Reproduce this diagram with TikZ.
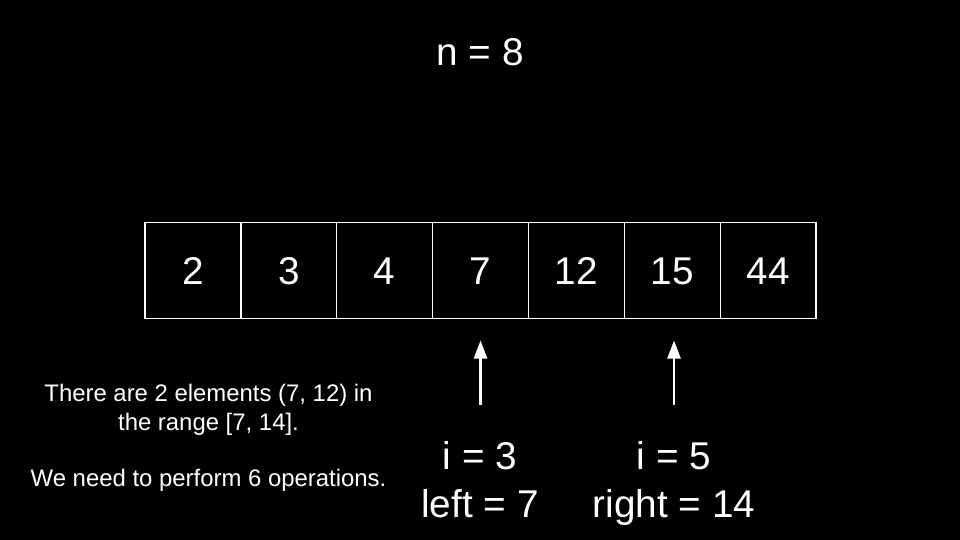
\documentclass[tikz,border=0pt]{standalone}
\usepackage{fontspec}
\setmainfont{Liberation Sans}
\usetikzlibrary{arrows.meta,positioning}

\begin{document}
\begin{tikzpicture}[
    x=1pt, y=-1pt,
    cell/.style={draw=white, line width=1.3pt, minimum width=95.86pt, minimum height=96pt, inner sep=0pt, outer sep=0pt, text=white, text height=27.7pt, text depth=0pt, font=\fontsize{38.7}{46}\selectfont},
    big/.style={text=white, anchor=base, inner sep=0pt, font=\fontsize{38.7}{46}\selectfont},
    note/.style={text=white, anchor=base, inner sep=0pt, font=\fontsize{23.9}{28}\selectfont},
    arr/.style={-{Triangle[width=13pt, length=18pt]}, line width=2.3pt, white}
  ]
    \fill[black] (0,0) rectangle (960,540);
    \useasboundingbox (0,0) rectangle (960,540);
    \node[big] (size) at (480,66) {n = 8};
    % array cells
    \node[cell] (c1) at (192.93,270.5) {2};
    \node[cell, right=0pt of c1] (c2) {3};
    \node[cell, right=0pt of c2] (c3) {4};
    \node[cell, right=0pt of c3] (c4) {7};
    \node[cell, right=0pt of c4] (c5) {12};
    \node[cell, right=0pt of c5] (c6) {15};
    \node[cell, right=0pt of c6] (c7) {44};
    % pointers
    \node[big] (lo1) at (480,469.3) {i = 3};
    \node[big] (lo2) at ([yshift=-48pt]lo1.base) {left = 7};
    \node[big] (hi1) at (674,469.3) {i = 5};
    \node[big] (hi2) at ([yshift=-48pt]hi1.base) {right = 14};
    \draw[arr] ([yshift=-86pt]c4.south) -- ([yshift=-22pt]c4.south);
    \draw[arr] ([xshift=1.8pt, yshift=-86pt]c6.south) -- ([xshift=1.8pt, yshift=-22pt]c6.south);
    % explanation
    \node[note] (info1) at (208.5,401) {There are 2 elements (7, 12) in};
    \node[note] (info2) at ([yshift=-29pt]info1.base) {the range [7, 14].};
    \node[note] (info3) at ([yshift=-56.7pt]info2.base) {We need to perform 6 operations.};
  \end{tikzpicture}
\end{document}
